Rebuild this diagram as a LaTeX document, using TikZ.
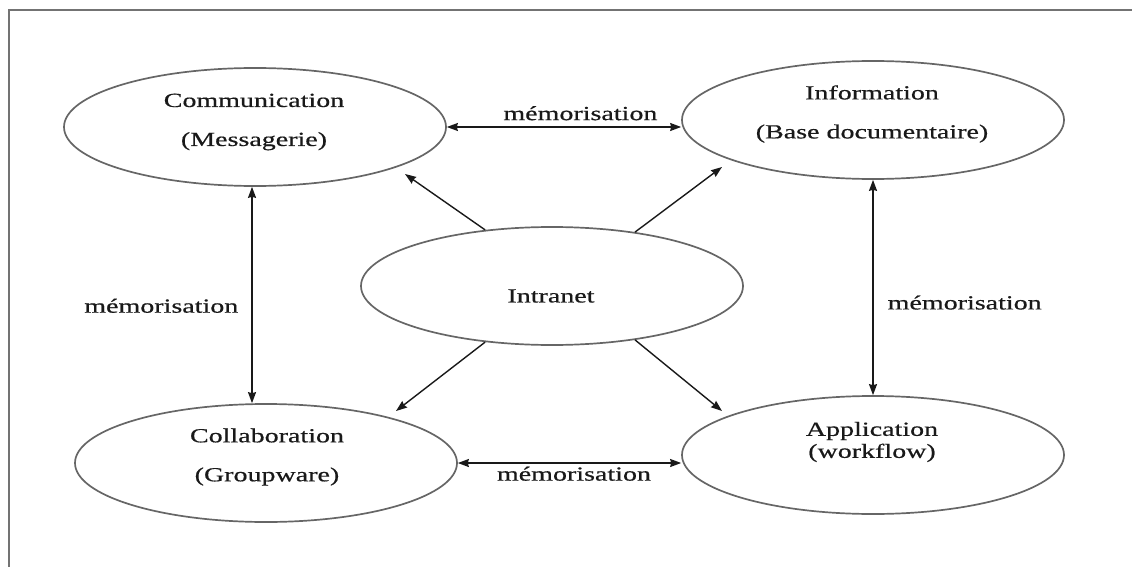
\documentclass[tikz,border=0pt]{standalone}
\usepackage{fontspec}
\setmainfont{Liberation Serif}[FakeStretch=1.4, FakeBold=0.6]
\usetikzlibrary{arrows.meta,shapes.geometric}

\begin{document}
\begin{tikzpicture}[x = 1pt, y = -1pt,
    >={Stealth[length = 11pt, width = 8pt, inset = 1pt]},
    bulle/.style = {ellipse, draw = black!60, line width = 1.7pt, minimum width = 382pt, minimum height = 118pt, inner sep = 0pt},
    texte/.style = {align = center, inner sep = 0pt, text = black!90, font = \fontsize{20}{23}\selectfont},
    memo/.style = {texte, inner sep = 1pt},
    fleche/.style = {draw = black!90, line width = 1.4pt, ->},
    flechedouble/.style = {fleche, <->},
    cadre/.style = {draw = black!55, line width = 1.5pt}]
    \useasboundingbox (0,0) rectangle (1132,567);
    \draw[cadre] (1132,10) -- (9,10) -- (9,567);

    \node[bulle] (comm) at (255,127) {};
    \node[bulle] (info) at (873,120) {};
    \node[bulle] (intra) at (552,286) {};
    \node[bulle] (collab) at (266,463) {};
    \node[bulle] (appli) at (873,455) {};

    \node[texte] (comm-t) at (254,122) {Communication\\[16pt](Messagerie)};
    \node[texte] (info-t) at (872,114) {Information\\[16pt](Base documentaire)};
    \node[texte] (intra-t) at (551,296) {Intranet};
    \node[texte] (collab-t) at (267,457) {Collaboration\\[16pt](Groupware)};
    \node[texte] (appli-t) at (872,442) {Application\\[-1pt](workflow)};

    \draw[flechedouble] (comm.east) -- (comm.east -| info.west) node[memo, pos = 0.57, above = 5pt] {mémorisation};
    \draw[flechedouble] (collab.east) -- (collab.east -| appli.west) node[memo, pos = 0.52, below = 2pt] {mémorisation};
    \draw[flechedouble] ([xshift = -3pt]comm.south) -- ([xshift = -3pt]comm.south |- collab.north) node[memo, pos = 0.55, left = 12pt] {mémorisation};
    \draw[flechedouble] (info.south) -- (info.south |- appli.north) node[memo, pos = 0.57, right = 13pt] {mémorisation};

    \coordinate (vers-comm) at (405,174);
    \coordinate (vers-info) at (722,167);
    \coordinate (vers-collab) at (396,411);
    \coordinate (vers-appli) at (722,411);
    \draw[fleche] (intra.140) -- (vers-comm);
    \draw[fleche] (intra.33) -- (vers-info);
    \draw[fleche] (intra.220) -- (vers-collab);
    \draw[fleche] (intra.327) -- (vers-appli);
\end{tikzpicture}
\end{document}
